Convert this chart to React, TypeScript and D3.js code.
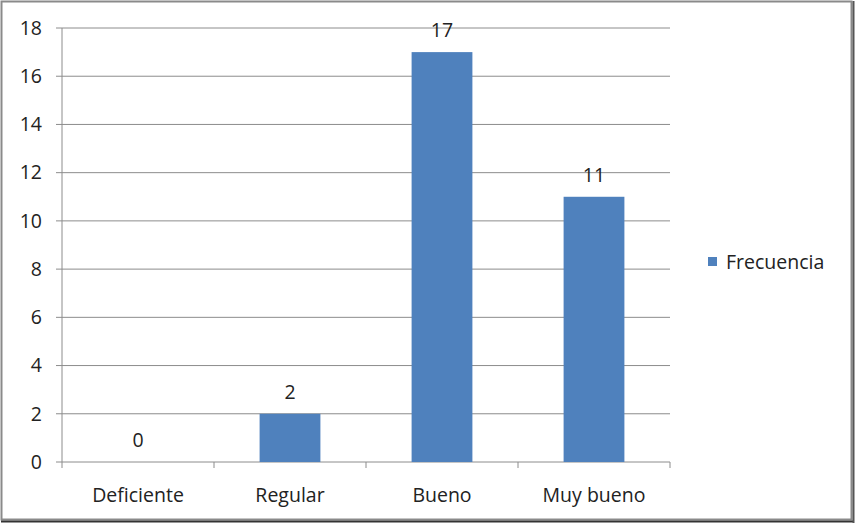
import React from "react";
import * as d3 from "d3";

const categories = ["Deficiente", "Regular", "Bueno", "Muy bueno"];
const values = [0, 2, 17, 11];
const yTicks = [0, 2, 4, 6, 8, 10, 12, 14, 16, 18];
const seriesName = "Frecuencia";

export default function App() {
  const W = 855, H = 523;
  const left = 62, right = 670, top = 28, bottom = 462;
  const x = d3.scaleBand<string>().domain(categories).range([left, right]).paddingInner(0.6).paddingOuter(0.3);
  const xOuter = d3.scaleBand<string>().domain(categories).range([left, right]);
  const y = d3.scaleLinear().domain([0, 18]).range([bottom, top]);
  const font = "'Open Sans', 'Liberation Sans', sans-serif";
  const color = "#4F81BD";
  const fs = 19.5;
  return (
    <svg width={W} height={H} style={{ position: "absolute", left: 0, top: 0 }} fontFamily={font}>
      <rect x={0} y={0} width={W} height={H} fill="#fff" />
      <rect x={1.5} y={1.5} width={850} height={518} fill="none" stroke="#8a8a8a" strokeWidth={2} />
      <line x1={1} x2={854} y1={521.5} y2={521.5} stroke="#333" strokeWidth={2} />
      <line x1={853.5} x2={853.5} y1={1} y2={523} stroke="#555" strokeWidth={2} />
      {yTicks.map((t) => (
        <g key={t}>
          {t > 0 && <line x1={left} x2={right} y1={y(t)} y2={y(t)} stroke="#8c8c8c" strokeWidth={1} />}
          <line x1={left - 6} x2={left} y1={y(t)} y2={y(t)} stroke="#8c8c8c" />
          <text x={42} y={y(t)} dy="0.35em" textAnchor="end" fontSize={fs} fill="#222">{t}</text>
        </g>
      ))}
      <line x1={left} x2={left} y1={top} y2={bottom} stroke="#8c8c8c" />
      <line x1={left} x2={right} y1={bottom} y2={bottom} stroke="#8c8c8c" />
      {categories.map((c, i) => (
        <line key={"t" + i} x1={(xOuter(c) as number) + xOuter.bandwidth()} x2={(xOuter(c) as number) + xOuter.bandwidth()} y1={bottom} y2={bottom + 6} stroke="#8c8c8c" />
      ))}
      <line x1={left} x2={left} y1={bottom} y2={bottom + 6} stroke="#8c8c8c" />
      {categories.map((c, i) => {
        const bx = x(c) as number;
        const cx = bx + x.bandwidth() / 2;
        return (
          <g key={c}>
            <rect x={bx} y={y(values[i])} width={x.bandwidth()} height={bottom - y(values[i])} fill={color} />
            <text x={cx} y={y(values[i]) - 15} textAnchor="middle" fontSize={fs} fill="#222">{values[i]}</text>
            <text x={cx} y={502} textAnchor="middle" fontSize={fs} fill="#222">{c}</text>
          </g>
        );
      })}
      <rect x={708} y={257} width={9} height={9} fill={color} />
      <text x={726} y={269} fontSize={fs} fill="#222">{seriesName}</text>
    </svg>
  );
}
